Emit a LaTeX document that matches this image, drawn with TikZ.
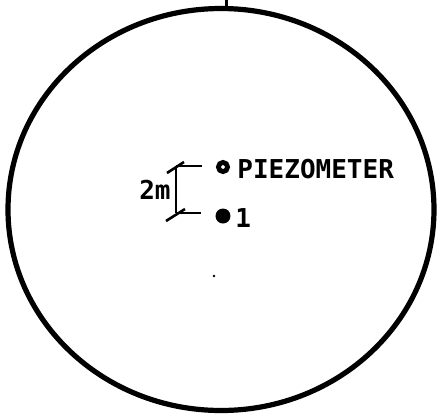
\documentclass[tikz,border=0pt]{standalone}
\usepackage{fontspec}
\setmonofont{DejaVu Sans Mono}
\usepackage{tikz}
\usetikzlibrary{positioning}

\begin{document}
\begin{tikzpicture}[x=0.5pt, y=-0.5pt,
        lbl/.style={font=\ttfamily\bfseries\fontsize{13}{15}\selectfont, inner sep=0pt, anchor=west},
        dimline/.style={line width=1.3pt},
        piezodot/.style={circle, draw, line width=2.4pt, fill=white, inner sep=0pt, minimum size=4.6pt},
        pointdot/.style={circle, fill=black, inner sep=0pt, minimum size=7.5pt}]
        \useasboundingbox (0,0) rectangle (441,419);
        % boundary of the site
        \draw[line width=2.6pt] (221,209.5) ellipse [x radius=213, y radius=201];
        \coordinate (north) at (227,8);
        \draw[line width=1.5pt] (north) -- ++(0,-8);
        % piezometer and point 1
        \node[piezodot] (piezo) at (223,167) {};
        \node[pointdot] (pt1) at (223,216) {};
        \node[lbl] (piezolbl) at (237,169) {PIEZOMETER};
        \node[lbl] (pt1lbl) at (235,218) {1};
        % 2m spacing
        \coordinate (dimtop) at (176,166);
        \coordinate (dimbot) at (176,213);
        \draw[dimline] (dimtop) -- (dimbot);
        \draw[dimline, shorten >=7pt] (dimtop) -- (piezo.west |- dimtop);
        \draw[dimline, shorten >=7pt] (dimbot) -- (pt1.west |- dimbot);
        \draw[dimline] (dimtop) ++(-9,7) -- ++(17,-11);
        \draw[dimline] (dimbot) ++(-10,8) -- ++(19,-12);
        \node[lbl, anchor=east] (dimlbl) at (171,190) {2m};
        \fill (214,276) circle (0.7pt);
    \end{tikzpicture}
\end{document}
